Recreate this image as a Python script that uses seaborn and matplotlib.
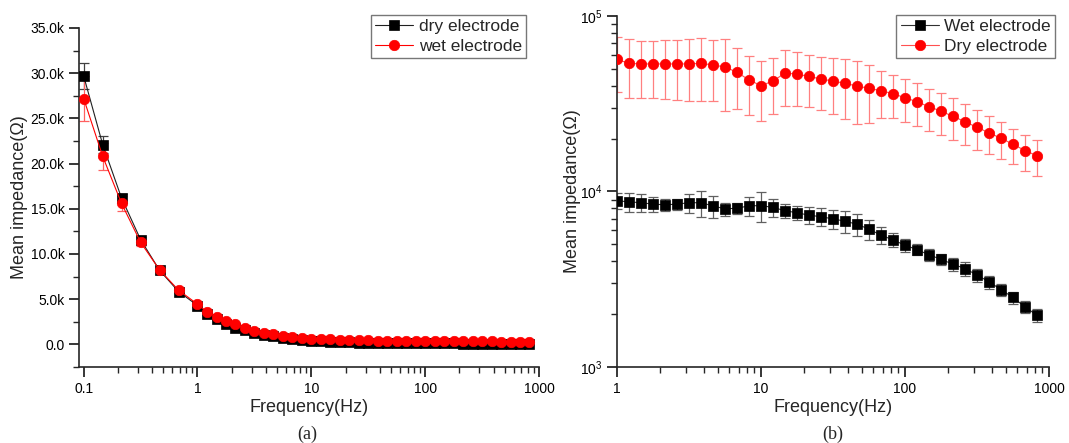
import numpy as np
import pandas as pd
import matplotlib
matplotlib.use("Agg")
import matplotlib.pyplot as plt
import matplotlib.ticker as mticker
import seaborn as sns

# === Data ===
freq_hi = [1, 1.21, 1.47, 1.78, 2.15, 2.61, 3.16, 3.83, 4.64, 5.62, 6.81, 8.25,
           10, 12.1, 14.7, 17.8, 21.5, 26.1, 31.6, 38.3, 46.4, 56.2, 68.1, 82.5,
           100, 121, 147, 178, 215, 261, 316, 383, 464, 562, 681, 825]
freq_lo = [0.1, 0.147, 0.215, 0.316, 0.464, 0.681]
freq_a = freq_lo + freq_hi

# panel (a), values in ohm
dry_a = [29700, 22100, 16200, 11600, 8200, 5850,
         4300, 3400, 2800, 2300, 1850, 1550, 1300, 1070, 900, 740, 600, 480,
         370, 320, 280, 250, 220, 200, 180, 165, 150, 140, 130, 120, 115, 110,
         105, 100, 95, 90, 88, 85, 82, 80, 78, 75]
dry_a_err = [1400, 900, 400, 300, 200, 150,
             120, 100, 90, 80, 70, 60, 50, 45, 40, 35, 30, 30,
             25, 25, 20, 20, 20, 20, 20, 20, 20, 20, 20, 20, 20, 20,
             20, 20, 20, 20, 20, 20, 20, 20, 20, 20]
wet_a = [27200, 20800, 15600, 11300, 8250, 6000,
         4450, 3600, 3050, 2600, 2200, 1820, 1520, 1300, 1120, 960, 820, 720,
         640, 590, 550, 510, 480, 460, 440, 420, 400, 390, 380, 370, 360, 350,
         345, 340, 335, 330, 325, 320, 315, 310, 305, 300]
wet_a_err = [2500, 1500, 800, 400, 250, 200,
             150, 120, 100, 90, 80, 70, 60, 55, 50, 45, 40, 40,
             35, 35, 30, 30, 30, 30, 30, 30, 30, 30, 30, 30, 30, 30,
             30, 30, 30, 30, 30, 30, 30, 30, 30, 30]

# panel (b), values in ohm
wet_b = [8860, 8730, 8630, 8470, 8400, 8470, 8630, 8630, 8280, 7960, 8030, 8280,
         8310, 8110, 7770, 7560, 7330, 7180, 6980, 6770, 6510, 6100, 5640, 5300,
         4940, 4670, 4350, 4110, 3850, 3640, 3340, 3060, 2760, 2490, 2200, 1970]
wet_b_err = [960, 1130, 1000, 800, 620, 630, 1080, 1500, 1180, 690, 590, 1040,
             1580, 950, 710, 690, 830, 840, 850, 940, 930, 790, 610, 500,
             410, 350, 330, 320, 330, 320, 280, 260, 220, 200, 180, 160]
dry_b = [56600, 53700, 53300, 53300, 53300, 53300, 53300, 53700, 52600, 51200, 47800, 43200,
         40100, 42600, 47300, 46600, 45300, 43700, 42600, 41300, 39900, 38700, 37500, 36100,
         34200, 32500, 30400, 28700, 26800, 25000, 23200, 21600, 20100, 18600, 17100, 16000]
dry_b_err = [19600, 19800, 19000, 19000, 19500, 20000, 20500, 21000, 20000, 22300, 18200, 16000,
             15000, 15000, 16400, 15700, 15000, 14500, 14800, 15400, 15700, 14000, 11200, 10000,
             9400, 8800, 8200, 7600, 7200, 6500, 6000, 5300, 4800, 4200, 4000, 3700]

df_a = pd.DataFrame({"freq": freq_a, "dry": dry_a, "dry_err": dry_a_err,
                     "wet": wet_a, "wet_err": wet_a_err})
df_b = pd.DataFrame({"freq": freq_hi, "wet": wet_b, "wet_err": wet_b_err,
                     "dry": dry_b, "dry_err": dry_b_err})

# === Style ===
sns.set_style("ticks")
plt.rcParams["font.family"] = ["Liberation Sans", "DejaVu Sans"]
plt.rcParams["axes.linewidth"] = 1.2

RED = "#ff0000"

fig = plt.figure(figsize=(10.69, 4.43), dpi=100)
ax1 = fig.add_axes([0.0739, 0.1716, 0.4303, 0.7652])
ax2 = fig.add_axes([0.5772, 0.1716, 0.4041, 0.7923])


def draw_series(ax, df, col, color, marker, ms, label, ecolor, lcolor):
    ax.errorbar(df["freq"], df[col], yerr=df[col + "_err"], fmt="none",
                ecolor=ecolor, elinewidth=0.9, capsize=3.5, capthick=0.9, zorder=2)
    sns.lineplot(data=df, x="freq", y=col, ax=ax, color=lcolor, lw=0.8,
                 marker=marker, markersize=ms, markeredgecolor=color,
                 markerfacecolor=color, markeredgewidth=0.5, label=label,
                 zorder=3)


def style_axes(ax):
    sns.despine(ax=ax)
    ax.set_xscale("log")
    ax.tick_params(which="major", direction="out", length=7, width=1.1,
                   labelsize=10, colors="black")
    ax.tick_params(which="minor", direction="out", length=4, width=1.0)
    ax.set_xlabel("Frequency(Hz)", fontsize=13)
    ax.set_ylabel("Mean impedance(\u03a9)", fontsize=13)
    ax.xaxis.set_major_locator(mticker.LogLocator(base=10))
    ax.xaxis.set_minor_locator(mticker.LogLocator(base=10, subs=np.arange(2, 10)))
    ax.xaxis.set_major_formatter(mticker.FuncFormatter(lambda v, p: f"{v:g}"))
    ax.xaxis.set_minor_formatter(mticker.NullFormatter())


def add_legend(ax, x_px, y_px):
    # anchor the legend's upper-right corner at a figure pixel position
    leg = ax.legend(loc="upper right", bbox_to_anchor=(x_px / 1069, 1 - y_px / 443),
                    bbox_transform=fig.transFigure, fontsize=12.5,
                    frameon=True, fancybox=False, edgecolor="#555555",
                    handlelength=2.2, borderpad=0.25, labelspacing=0.25,
                    handletextpad=0.3, borderaxespad=0.0)
    leg.get_frame().set_linewidth(1.0)
    return leg


# === Panel (a) ===
draw_series(ax1, df_a, "dry", "black", "s", 6.5, "dry electrode", "#404040", "#202020")
draw_series(ax1, df_a, "wet", RED, "o", 7.5, "wet electrode", "#ff6060", RED)
style_axes(ax1)
ax1.set_xlim(0.091, 1000)
ax1.set_ylim(-2500, 35000)
ax1.yaxis.set_major_locator(mticker.MultipleLocator(5000))
ax1.yaxis.set_minor_locator(mticker.MultipleLocator(2500))
ax1.yaxis.set_major_formatter(mticker.FuncFormatter(
    lambda v, p: "0.0" if abs(v) < 1 else f"{v / 1000:.1f}k"))
ax1.yaxis.set_label_coords(-0.11, 0.5)
ax1.xaxis.set_label_coords(0.5, -0.094)
add_legend(ax1, 526, 15)

# === Panel (b) ===
draw_series(ax2, df_b, "wet", "black", "s", 6.5, "Wet electrode", "#606060", "#303030")
draw_series(ax2, df_b, "dry", RED, "o", 7.5, "Dry electrode", "#ff8080", "#ff5050")
style_axes(ax2)
ax2.set_yscale("log")
ax2.set_xlim(1, 1000)
ax2.set_ylim(1000, 100000)
ax2.yaxis.set_major_locator(mticker.LogLocator(base=10))
ax2.yaxis.set_minor_locator(mticker.LogLocator(base=10, subs=np.arange(2, 10)))
ax2.yaxis.set_minor_formatter(mticker.NullFormatter())
ax2.yaxis.set_label_coords(-0.084, 0.5)
ax2.xaxis.set_label_coords(0.5, -0.091)
add_legend(ax2, 1055, 15)

# === Captions ===
fig.text(0.287, 0.02, "(a)", ha="center", va="center", fontsize=13,
         family=["Liberation Serif", "DejaVu Serif"])
fig.text(0.779, 0.02, "(b)", ha="center", va="center", fontsize=13,
         family=["Liberation Serif", "DejaVu Serif"])

fig.savefig("out.png", dpi=100)
